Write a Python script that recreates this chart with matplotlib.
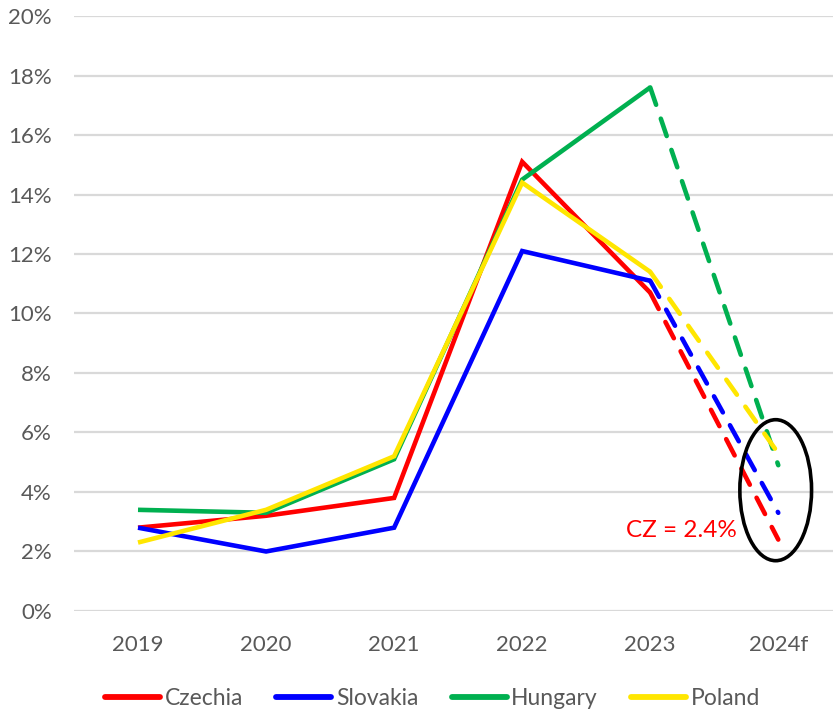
import matplotlib
matplotlib.use("Agg")
import matplotlib.pyplot as plt
from matplotlib.patches import Ellipse
from matplotlib.ticker import FuncFormatter

years = ["2019", "2020", "2021", "2022", "2023", "2024f"]
czechia = [2.8, 3.2, 3.8, 15.1, 10.7, 2.4]
slovakia = [2.8, 2.0, 2.8, 12.1, 11.1, 3.3]
hungary = [3.4, 3.3, 5.1, 14.5, 17.6, 4.9]
poland = [2.3, 3.4, 5.2, 14.4, 11.4, 5.3]

series = [
    ("Czechia", czechia, "#ff0000"),
    ("Slovakia", slovakia, "#0000ff"),
    ("Hungary", hungary, "#00b050"),
    ("Poland", poland, "#ffe600"),
]

plt.rcParams["font.family"] = ["Lato", "DejaVu Sans"]

fig = plt.figure(figsize=(8.35, 7.12), dpi=100)
ax = fig.add_axes([0.0886, 0.1419, 0.9094, 0.8356])

x = list(range(len(years)))
lw = 3.3
handles = []
for name, vals, col in series:
    h, = ax.plot(x[:5], vals[:5], color=col, lw=lw, solid_capstyle="butt",
                 solid_joinstyle="miter", label=name, zorder=3)
    ax.plot(x[4:], vals[4:], color=col, lw=lw, linestyle=(0, (4.0, 3.2)),
            dash_capstyle="round", zorder=3)
    handles.append(h)

ax.add_patch(Ellipse((4.98, 4.06), 0.56, 4.74, fill=False, edgecolor="black",
                     lw=2.6, zorder=4))
ax.text(4.68, 2.72, "CZ = 2.4%", color="#ff0000", fontsize=17.5,
        ha="right", va="center", zorder=5)

ax.set_ylim(0, 20)
ax.set_xlim(-0.5, 5.43)
ax.set_yticks(range(0, 21, 2))
ax.yaxis.set_major_formatter(FuncFormatter(lambda v, p: f"{int(v)}%"))
ax.set_xticks(x)
ax.set_xticklabels(years)
ax.grid(axis="y", color="#d9d9d9", lw=1.6, zorder=0)
ax.set_axisbelow(True)
for s in ax.spines.values():
    s.set_visible(False)
ax.tick_params(axis="both", length=0, labelsize=16, colors="#595959")
ax.tick_params(axis="x", pad=17)
ax.tick_params(axis="y", pad=16)

leg = fig.legend(handles=handles, loc="center", bbox_to_anchor=(0.518, 0.019),
                 ncol=4, frameon=False, fontsize=16.5, handlelength=2.4,
                 handletextpad=0.2, columnspacing=1.45)
for t in leg.get_texts():
    t.set_color("#595959")
for lh in leg.get_lines():
    lh.set_linewidth(4.2)
    lh.set_solid_capstyle("round")

fig.savefig("out.png", dpi=100)
